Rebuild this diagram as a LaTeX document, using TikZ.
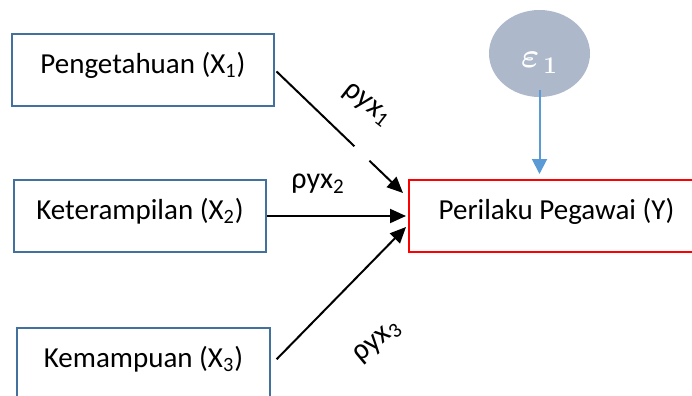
\documentclass[tikz,border=0pt]{standalone}
\usepackage{bm}
\usepackage{fontspec}
\setmainfont{Carlito}
\usetikzlibrary{arrows.meta,shapes.geometric}

\definecolor{varblue}{HTML}{41719C}
\definecolor{errgray}{HTML}{ADB9CA}
\definecolor{errblue}{HTML}{5B9BD5}

\tikzset{
  varbox/.style={draw=varblue, line width=1pt, minimum height=36pt,
    text height=8pt, text depth=5pt, inner sep=0pt,
    font=\fontsize{14.5}{17}\selectfont},
  coef/.style={line width=1pt, black, -{Triangle[length=8pt,width=7pt]}},
  coeflabel/.style={inner sep=1pt, font=\fontsize{15}{17}\selectfont},
  errnode/.style={ellipse, fill=errgray, text=white, inner sep=0pt,
    minimum width=50.5pt, minimum height=43.5pt,
    text height=16pt, text depth=1.5pt, font=\fontsize{17}{20}\selectfont},
}

\begin{document}
\begin{tikzpicture}[x=0.5pt,y=-0.5pt]
  \useasboundingbox (0,0) rectangle (692,396);
  \clip (0,0) rectangle (692,396);

  % variables
  \node[varbox, minimum width=131pt] (x1) at (143,70) {Pengetahuan (X\textsubscript{1})};
  \node[varbox, minimum width=126pt] (x2) at (140,216) {Keterampilan (X\textsubscript{2})};
  \node[varbox, minimum width=126.5pt] (x3) at (143.5,364) {Kemampuan (X\textsubscript{3})};
  \node[varbox, draw=red, minimum width=147.5pt] (py) at (556.5,216) {Perilaku Pegawai (Y)};
  \node[errnode] (e1) at (539.5,53.5) {$\bm{\varepsilon}_{\,\bm{1}}$};

  % paths into Y
  \draw[coef, shorten <=1pt, dash pattern=on 54pt off 10.5pt on 100pt]
    (x1.east) -- ([shift={(-5,-23)}]py.west);
  \draw[coef] (x2.east) -- ([xshift=-1pt]py.west);
  \draw[coef, shorten <=4pt] ([yshift=-0.5pt]x3.east) -- ([shift={(-2,11)}]py.west);
  \draw[line width=1pt, errblue, -{Triangle[length=7.5pt,width=7.5pt]},
    shorten <=-3.5pt, shorten >=2.5pt] (e1.south) -- (e1.south |- py.north);

  % coefficients
  \node[coeflabel, rotate=-38] (r1) at (367,105) {ρyx\textsubscript{1}};
  \node[coeflabel] (r2) at (318,184) {ρyx\textsubscript{2}};
  \node[coeflabel, rotate=40] (r3) at (378,342) {ρyx\textsubscript{3}};
\end{tikzpicture}
\end{document}
